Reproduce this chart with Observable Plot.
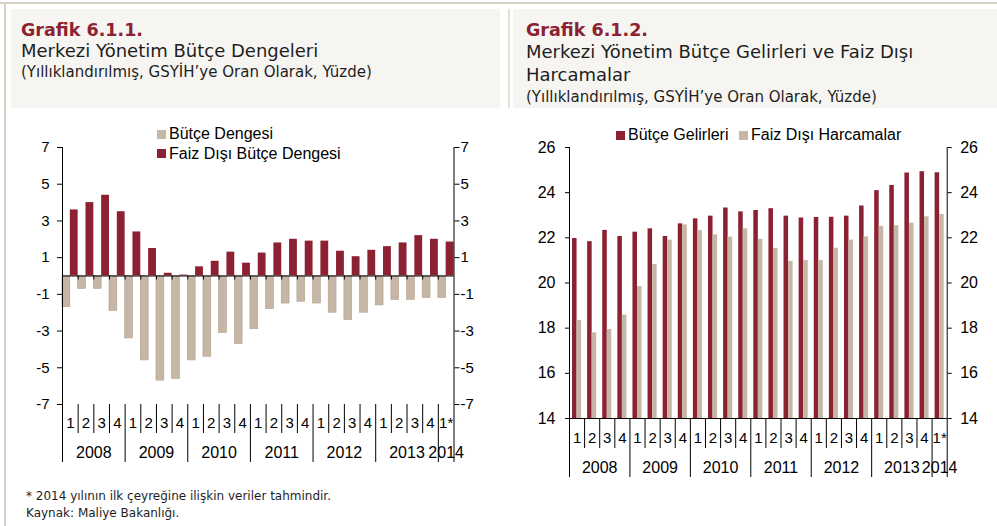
<!DOCTYPE html>
<html><head><meta charset="utf-8">
<script src="https://cdn.jsdelivr.net/npm/d3@7"></script>
<script src="https://cdn.jsdelivr.net/npm/@observablehq/plot@0.6"></script>
<style>
html,body{margin:0;padding:0;background:#fff;}
#page{position:relative;width:997px;height:526px;overflow:hidden;background:#fff;}
.abs{position:absolute;}
.t{position:absolute;white-space:nowrap;line-height:1;font-family:"DejaVu Sans",sans-serif;color:#1e1e1e;}
.leg{position:absolute;display:flex;align-items:center;height:16px;font:16px "Liberation Sans",Arial,sans-serif;color:#000;white-space:nowrap;}
.sw{width:9px;height:9px;margin-right:3px;display:inline-block;}
</style></head>
<body><div id="page">
<div class="abs" style="left:0;top:2px;width:997px;height:2px;background:#d6d0c2"></div>
<div class="abs" style="left:4px;top:2px;width:2px;height:524px;background:#d6d0c2"></div>
<div class="abs" style="left:11px;top:9px;width:489px;height:99px;background:#f6f5f1"></div>
<div class="abs" style="left:508px;top:9px;width:2px;height:99px;background:#e3dfd4"></div>
<div class="abs" style="left:513px;top:9px;width:484px;height:99px;background:#f6f5f1"></div>

<div class="t" style="left:21px;top:21.7px;font-size:17.5px;font-weight:bold;color:#8c2131">Grafik 6.1.1.</div>
<div class="t" style="left:21px;top:42px;font-size:18px">Merkezi Yönetim Bütçe Dengeleri</div>
<div class="t" style="left:21px;top:64.5px;font-size:15px">(Yıllıklandırılmış, GSYİH’ye Oran Olarak, Yüzde)</div>

<div class="t" style="left:526px;top:21.7px;font-size:17.5px;font-weight:bold;color:#8c2131">Grafik 6.1.2.</div>
<div class="t" style="left:526px;top:42.5px;font-size:18px">Merkezi Yönetim Bütçe Gelirleri ve Faiz Dışı</div>
<div class="t" style="left:526px;top:65.8px;font-size:18px">Harcamalar</div>
<div class="t" style="left:526px;top:90px;font-size:15px">(Yıllıklandırılmış, GSYİH’ye Oran Olarak, Yüzde)</div>

<div class="t" style="left:26px;top:489.5px;font-size:12px">* 2014 yılının ilk çeyreğine ilişkin veriler tahmindir.</div>
<div class="t" style="left:26px;top:506.8px;font-size:12px">Kaynak: Maliye Bakanlığı.</div>

<div id="legL1" class="leg" style="left:157px;top:126px"></div>
<div id="legL2" class="leg" style="left:157px;top:145.5px"></div>
<div id="legR1" class="leg" style="left:616px;top:127px"></div>
<div id="legR2" class="leg" style="left:739px;top:127px"></div>

<div id="c1" class="abs" style="left:0;top:137px;width:500px;"></div>
<div id="s1" class="abs" style="left:0;top:404px;width:500px;"></div>
<div id="c2" class="abs" style="left:500px;top:137px;width:497px;"></div>
<div id="s2" class="abs" style="left:500px;top:418px;width:497px;"></div>
</div>
<script>
const RED = "#8c2131";
const GREY = "#c5b6a5";

// Category labels
const quarterLabels = ["1","2","3","4","1","2","3","4","1","2","3","4","1","2","3","4","1","2","3","4","1","2","3","4","1*"];
const years = ["2008","2009","2010","2011","2012","2013","2014"];
const quartersPerYear = [4,4,4,4,4,4,1];

// Chart 6.1.1 series
const seriesNames1 = ["Bütçe Dengesi", "Faiz Dışı Bütçe Dengesi"];
const butceDengesi = [-1.7,-0.7,-0.7,-1.9,-3.4,-4.6,-5.7,-5.6,-4.6,-4.4,-3.1,-3.7,-2.9,-1.8,-1.5,-1.4,-1.5,-2.0,-2.4,-2.0,-1.6,-1.3,-1.3,-1.2,-1.2];
const faizDisiDenge = [3.6,4.0,4.4,3.5,2.4,1.5,0.15,0.05,0.5,0.8,1.3,0.7,1.25,1.8,2.0,1.9,1.9,1.35,1.05,1.4,1.6,1.8,2.2,2.0,1.85];
const yTicks1 = [-7,-5,-3,-1,1,3,5,7];

// Chart 6.1.2 series
const seriesNames2 = ["Bütçe Gelirleri", "Faiz Dışı Harcamalar"];
const butceGelirleri = [21.97,21.83,22.33,22.06,22.25,22.40,22.06,22.62,22.84,22.96,23.32,23.15,23.21,23.29,22.96,22.88,22.90,22.91,22.96,23.41,24.09,24.32,24.87,24.93,24.88];
const faizDisiHarcama = [18.34,17.79,17.94,18.58,19.84,20.82,21.90,22.57,22.32,22.13,22.03,22.40,21.93,21.53,20.96,21.00,21.00,21.54,21.90,22.04,22.51,22.54,22.65,22.93,23.03];
const yTicks2 = [14,16,18,20,22,24,26];

const n = quarterLabels.length;
const idx = d3.range(n);
const yearBounds = Array.from(d3.cumsum([0, ...quartersPerYear]));
const yearStart = yearBounds.slice(0, -1);
const quarterBounds = d3.range(1, n).filter(b => !yearBounds.includes(b));
const fmt = d => String(d);

function svgStyle(fs) {
  return {fontFamily: '"Liberation Sans", Arial, sans-serif', fontSize: fs + "px", color: "#000", background: "transparent", overflow: "visible", maxWidth: "none"};
}

function legend(id, color, label) {
  const el = document.getElementById(id);
  el.innerHTML = `<span class="sw" style="background:${color}"></span><span>${label}</span>`;
}
legend("legL1", GREY, seriesNames1[0]);
legend("legL2", RED, seriesNames1[1]);
legend("legR1", RED, seriesNames2[0]);
legend("legR2", GREY, seriesNames2[1]);

function strip(width, height, ml, mr) {
  return Plot.plot({
    width, height, marginTop: 0, marginBottom: 0, marginLeft: ml, marginRight: mr,
    x: {type: "linear", domain: [0, n], axis: null},
    y: {type: "band", domain: ["q", "y"], padding: 0, axis: null},
    style: svgStyle(15),
    marks: [
      Plot.ruleX(quarterBounds, {x: d => d, y1: () => "q", y2: () => "q", stroke: "#000"}),
      Plot.ruleX(yearBounds, {x: d => d, stroke: "#000"}),
      Plot.text(idx, {x: i => i + 0.5, y: () => "q", text: i => quarterLabels[i], dy: 4.5, fontSize: 15, fill: "#000"}),
      Plot.text(years, {x: (d, j) => yearStart[j] + quartersPerYear[j] / 2, y: () => "y", text: d => d, dy: 4.5, fontSize: 16, fill: "#000"})
    ]
  });
}

// Chart 1
const c1 = Plot.plot({
  width: 500, height: 267, marginTop: 10, marginBottom: 0, marginLeft: 62, marginRight: 46.5,
  x: {type: "linear", domain: [0, n], axis: null},
  y: {domain: [-7, 7], axis: null},
  style: svgStyle(15),
  marks: [
    Plot.rect(idx, {x1: i => i, x2: i => i + 0.5, y1: 0, y2: i => butceDengesi[i], fill: GREY, stroke: "#b39f89", strokeWidth: 0.6}),
    Plot.rect(idx, {x1: i => i + 0.5, x2: i => i + 1, y1: 0, y2: i => faizDisiDenge[i], fill: RED}),
    Plot.ruleY([0], {stroke: "#000"}),
    Plot.ruleX(d3.range(1, n), {x: d => d, y1: 0, y2: 0, insetBottom: -4, stroke: "#000"}),
    Plot.ruleX([0, n], {stroke: "#000"}),
    Plot.axisY({anchor: "left", ticks: yTicks1, tickSize: 5, tickPadding: 8, tickFormat: fmt, label: null}),
    Plot.axisY({anchor: "right", ticks: yTicks1, tickSize: 5, tickPadding: 1.5, tickFormat: fmt, label: null})
  ]
});
document.getElementById("c1").append(c1);
document.getElementById("s1").append(strip(500, 58, 62, 46.5));

// Chart 2
const c2 = Plot.plot({
  width: 497, height: 281, marginTop: 10, marginBottom: 0, marginLeft: 69, marginRight: 50.3,
  x: {type: "linear", domain: [0, n], axis: null},
  y: {domain: [14, 26], axis: null},
  style: svgStyle(16),
  marks: [
    Plot.rect(idx, {x1: i => i + 0.2, x2: i => i + 0.5, y1: 14, y2: i => butceGelirleri[i], fill: RED}),
    Plot.rect(idx, {x1: i => i + 0.5, x2: i => i + 0.8, y1: 14, y2: i => faizDisiHarcama[i], fill: GREY}),
    Plot.ruleY([14], {stroke: "#000"}),
    Plot.ruleX([0, n], {stroke: "#000"}),
    Plot.axisY({anchor: "left", ticks: yTicks2, tickSize: 4, tickPadding: 10, tickFormat: fmt, label: null}),
    Plot.axisY({anchor: "right", ticks: yTicks2, tickSize: 4, tickPadding: 9, tickFormat: fmt, label: null})
  ]
});
document.getElementById("c2").append(c2);
document.getElementById("s2").append(strip(497, 59, 69, 50.3));
</script>
</body></html>
